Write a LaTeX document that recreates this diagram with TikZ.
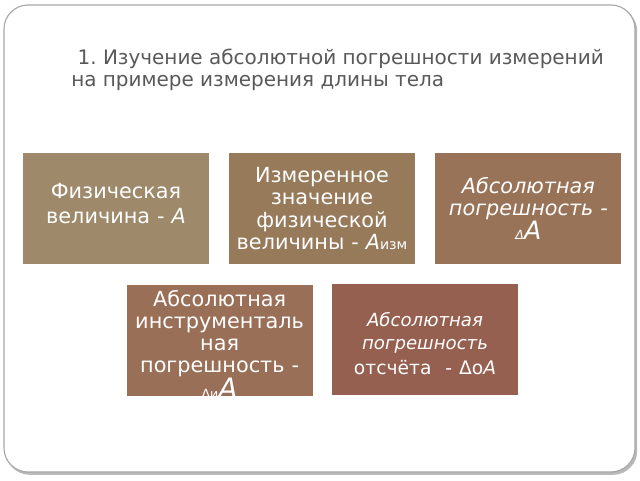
\documentclass[tikz,border=0pt]{standalone}
\usepackage{fontspec}
\setmainfont{DejaVu Sans}
\usepackage{xcolor}
\usepackage{tikz}
\definecolor{slidegray}{RGB}{89, 89, 89}
\definecolor{cardtan}{RGB}{158, 138, 107}
\definecolor{cardbrown}{RGB}{151, 122, 90}
\definecolor{cardumber}{RGB}{152, 115, 88}
\definecolor{cardsienna}{RGB}{154, 111, 87}
\definecolor{cardrust}{RGB}{149, 96, 80}
\frenchspacing
\tikzset{
  card/.style={rectangle, inner sep=0pt, minimum width=4.65cm, minimum height=2.775cm,
    text width=4.6cm, align=center, text=white,
    font=\fontsize{14.8}{16}\selectfont},
  cardtext/.style={inner sep=0pt, text width=4.6cm, align=center, text=white,
    font=\fontsize{14.8}{16}\selectfont},
  titleline/.style={anchor=base west, inner sep=0pt, text=slidegray,
    font=\fontsize{14.2}{16}\selectfont}
}

\begin{document}
\begin{tikzpicture}[scale=1]
\useasboundingbox (0,0) rectangle (16,12);
% Slide frame with shadow
\fill[gray!55, rounded corners=0.6cm] (0.14,0.13) rectangle (15.93,11.82);
\draw[gray!70, fill=white, line width=0.8pt, rounded corners=0.6cm] (0.1,0.2) rectangle (15.875,11.875);

% Title
\node[titleline] (title1) at (1.775,10.375) {\ 1. Изучение абсолютной погрешности измерений};
\node[titleline] (title2) at (1.775,9.825) {на примере измерения длины тела};

% Top row
\node[card, fill=cardtan] (phys) at (2.9,6.79) {};
\node[cardtext, font=\fontsize{14.8}{17.5}\selectfont] (phystext) at ([yshift=0.12cm]phys.center)
  {Физическая\\ величина - \textit{A}};
\node[card, fill=cardbrown] (meas) at (8.05,6.79)
  {Измеренное\\ значение\\ физической\\ величины - \textit{A}{\fontsize{10}{10}\selectfont изм}};
\node[card, fill=cardumber] (abs) at (13.21,6.79)
  {\itshape Абсолютная\\ погрешность -\\ {\fontsize{9}{10}\selectfont Δ}{\fontsize{18}{17}\selectfont A}};

% Bottom row
\node[card, fill=cardsienna] (instr) at (5.49,3.49) {};
\begin{scope}
\clip (instr.south west) rectangle (instr.north east);
\node[cardtext, font=\fontsize{14.8}{15.6}\selectfont] (instrtext) at ([yshift=-0.1cm]instr.center)
  {Абсолютная\\ инструменталь\\ ная\\ погрешность -\\ {\fontsize{9}{10}\selectfont Δи}{\fontsize{20}{16}\selectfont\itshape A}};
\end{scope}
\node[card, fill=cardrust] (read) at (10.625,3.51) {};
\node[cardtext] (readtext) at ([yshift=-0.1cm]read.center)
  {{\fontsize{12.9}{12.6}\selectfont\itshape Абсолютная\\ погрешность}\\[2pt]
   {\fontsize{13.3}{14}\selectfont отсчёта~ - Δо\textit{A}}};
\end{tikzpicture}
\end{document}
